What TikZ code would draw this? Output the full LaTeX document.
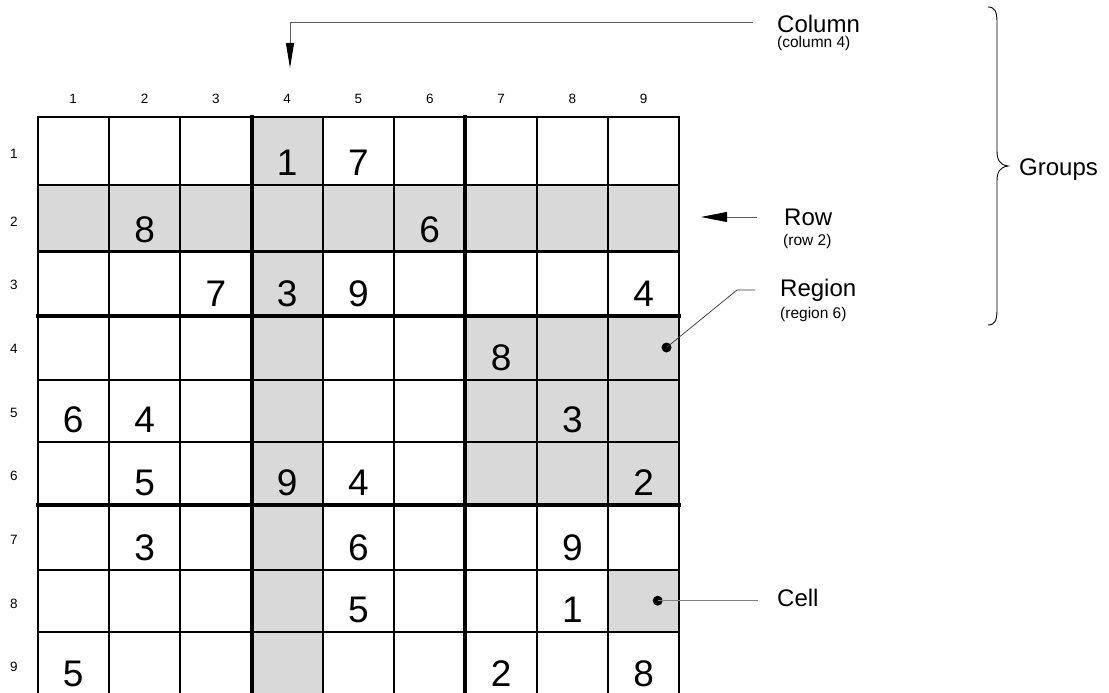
\documentclass[tikz,border=0pt]{standalone}
\usepackage{fontspec}
\setmainfont{Liberation Sans}
\usetikzlibrary{arrows.meta}
\definecolor{cellgray}{RGB}{217,217,217}
\definecolor{linegray}{RGB}{90,90,90}
\definecolor{lightline}{RGB}{130,130,130}
\begin{document}
\begin{tikzpicture}[x=1pt,y=-1pt,
  thinline/.style={line width=2.2pt,line cap=rect},
  thickline/.style={line width=4pt,line cap=rect},
  digit/.style={font=\fontsize{37}{37}\selectfont, anchor=base, inner sep=0pt},
  idx/.style={font=\fontsize{13.5}{13.5}\selectfont, inner sep=0pt},
  biglabel/.style={font=\fontsize{24}{24}\selectfont, anchor=base west, inner sep=0pt},
  sublabel/.style={font=\fontsize{15.5}{15.5}\selectfont, anchor=base west, inner sep=0pt},
  dotnode/.style={circle, fill=black, inner sep=0pt, minimum size=10pt},
  connector/.style={line width=0.9pt, draw=linegray},
  lightconn/.style={line width=0.9pt, draw=lightline}
]
\useasboundingbox (0,0) rectangle (1109,693);
\clip (0,0) rectangle (1109,693);

% shaded groups
\fill[cellgray] (251.5,117) rectangle (322.8,696);
\fill[cellgray] (37.6,185) rectangle (679.3,251.5);
\fill[cellgray] (465.4,315.5) rectangle (679.3,505);
\fill[cellgray] (608,570) rectangle (679.3,632);

% thin grid lines
\foreach \i in {0,1,2,4,5,7,8,9}{
  \draw[thinline] ({37.6+71.3*\i},117) -- ({37.6+71.3*\i},700);
}
\foreach \y in {117,185,251.5,380,442,570,632}{
  \draw[thinline] (37.6,\y) -- (679.3,\y);
}
% thick box lines
\foreach \i in {3,6}{
  \draw[thickline] ({37.6+71.3*\i},117) -- ({37.6+71.3*\i},700);
}
\foreach \y in {315.5,505}{
  \draw[thickline] (37.6,\y) -- (679.3,\y);
}

% column indices
\foreach \c in {1,...,9}{
  \node[idx] (c\c) at ({1.95+71.3*\c},99) {\c};
}
% row indices
\foreach \r/\y in {1/154,2/222,3/285,4/349,5/413,6/476,7/540,8/604,9/667}{
  \node[idx] (r\r) at (14,\y) {\r};
}

% given digits (row/col/x/baseline/digit)
\foreach \r/\c/\x/\y/\d in {
  1/4/287.15/175.5/1, 1/5/358.45/175.5/7,
  2/2/144.55/242/8, 2/6/429.75/242/6,
  3/3/215.85/306/7, 3/4/287.15/306/3, 3/5/358.45/306/9, 3/9/643.65/306/4,
  4/7/501.05/370.5/8,
  5/1/73.25/432.5/6, 5/2/144.55/432.5/4, 5/8/572.35/432.5/3,
  6/2/144.55/495.5/5, 6/4/287.15/495.5/9, 6/5/358.45/495.5/4, 6/9/643.65/495.5/2,
  7/2/144.55/560.5/3, 7/5/358.45/560.5/6, 7/8/572.35/560.5/9,
  8/5/358.45/622.5/5, 8/8/572.35/622.5/1,
  9/1/73.25/686.5/5, 9/7/501.05/686.5/2, 9/9/643.65/686.5/8}{
  \node[digit] (d\r\c) at (\x,\y) {\d};
}

% labels
\node[biglabel] (colLabel) at (777,32.7) {Column};
\node[sublabel] (colSub) at (777,48) {(column 4)};
\node[biglabel] (rowLabel) at (784,225) {Row};
\node[sublabel] (rowSub) at (783,245) {(row 2)};
\node[biglabel] (regLabel) at (780,296.7) {Region};
\node[sublabel] (regSub) at (780,318.5) {(region 6)};
\node[biglabel] (cellLabel) at (777,606) {Cell};
\node[biglabel] (grpLabel) at (1019,175) {Groups};

% connector end points
\coordinate (colStart) at (753,22.5);
\coordinate (colTip) at (290,68);
\coordinate (rowStart) at (757,217);
\coordinate (rowTip) at (701,217);
\coordinate (regStart) at (755,290);
\coordinate (regBend) at (737,290);
\coordinate (cellEnd) at (758,600.7);

\node[dotnode] (regDot) at (666.5,347.5) {};
\node[dotnode] (cellDot) at (657.7,600.7) {};

% connectors
\draw[connector,-{Triangle[length=25pt,width=8pt,color=black]}] (colStart) -| (colTip);
\draw[connector,-{Triangle[length=26pt,width=10pt,color=black]}] (rowStart) -- (rowTip);
\draw[line width=0.7pt,draw=black!80] (regStart) -- (regBend) -- (regDot.center);
\draw[lightconn] (cellDot.center) -- (cellEnd);

% groups brace
\draw[line width=0.9pt] (988,7) .. controls (995,7) and (997,12) .. (997,22)
  -- (997,151) .. controls (997,160) and (1000,165) .. (1008,166)
  .. controls (1000,167) and (997,172) .. (997,181)
  -- (997,310) .. controls (997,320) and (995,325) .. (988,325);
\end{tikzpicture}
\end{document}
